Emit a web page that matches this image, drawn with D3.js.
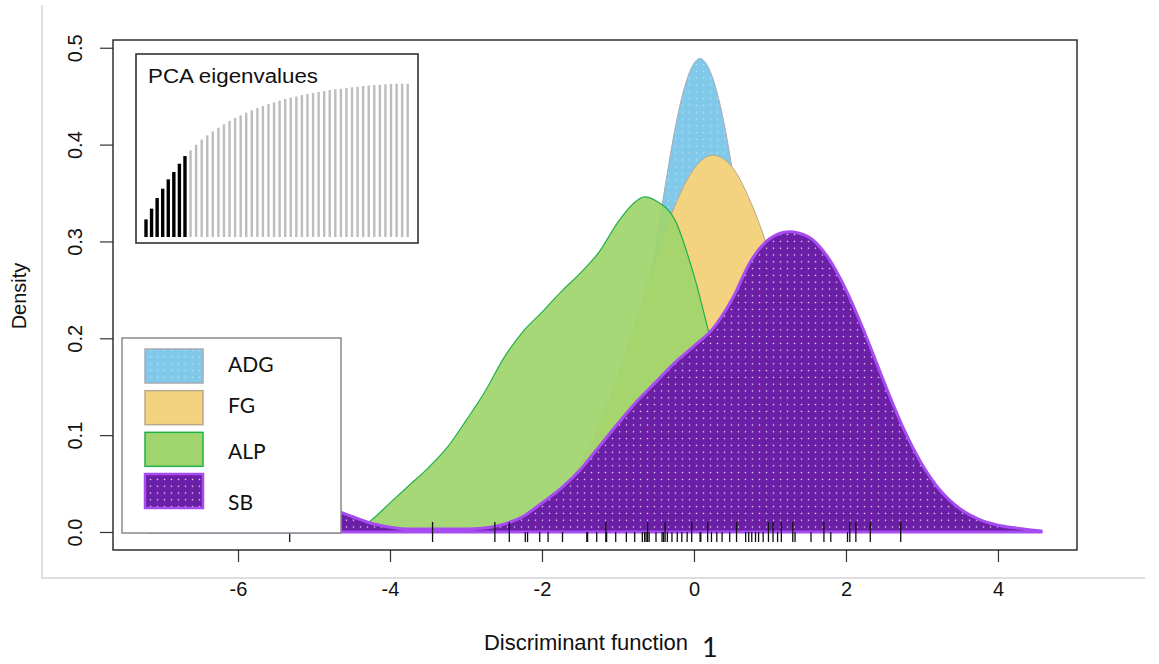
<!DOCTYPE html>
<html>
<head>
<meta charset="utf-8">
<script src="https://cdn.jsdelivr.net/npm/d3@7"></script>
<style>
  body { margin: 0; background: #fff; }
  svg { display: block; font-family: "Liberation Sans", Arial, sans-serif; }
</style>
</head>
<body>
<div id="chart"></div>
<script>
// ---- data ---------------------------------------------------------------
const groups = ["ADG", "FG", "ALP", "SB"];

// density curves: x positions and density values, one pair per group
const adgX = [-2.0, -1.75, -1.5, -1.25, -1.0, -0.75, -0.5, -0.375, -0.25, -0.125, 0.0, 0.08, 0.125, 0.25, 0.375, 0.5, 0.625, 0.75, 1.0, 1.25, 1.5, 1.75, 2.0];
const adgY = [0.001, 0.004, 0.012, 0.035, 0.087, 0.176, 0.297, 0.359, 0.416, 0.459, 0.484, 0.489, 0.487, 0.468, 0.430, 0.376, 0.314, 0.251, 0.139, 0.064, 0.024, 0.008, 0.002];

const fgX = [-2.5, -2.25, -2.0, -1.75, -1.5, -1.25, -1.0, -0.75, -0.5, -0.25, 0.0, 0.25, 0.5, 0.75, 1.0, 1.25, 1.5, 1.75, 2.0, 2.25, 2.5, 2.75, 3.0];
const fgY = [0.006, 0.012, 0.023, 0.041, 0.070, 0.109, 0.161, 0.221, 0.282, 0.337, 0.375, 0.389, 0.377, 0.340, 0.287, 0.226, 0.166, 0.113, 0.072, 0.043, 0.024, 0.012, 0.005];

const alpX = [-4.6, -4.5, -4.25, -4.0, -3.75, -3.5, -3.25, -3.0, -2.75, -2.5, -2.25, -2.0, -1.75, -1.5, -1.25, -1.0, -0.8, -0.65, -0.5, -0.25, 0.0, 0.25, 0.5, 0.75, 1.0, 1.25, 1.5, 1.75];
const alpY = [0.0, 0.002, 0.012, 0.030, 0.048, 0.066, 0.087, 0.115, 0.145, 0.180, 0.207, 0.227, 0.248, 0.267, 0.289, 0.320, 0.339, 0.346, 0.342, 0.322, 0.265, 0.190, 0.125, 0.070, 0.032, 0.012, 0.003, 0.0];

const sbX = [-7.175, -6.0, -5.75, -5.5, -5.25, -5.0, -4.75, -4.5, -4.25, -4.0, -3.75, -3.5, -3.25, -3.0, -2.75, -2.5, -2.25, -2.0, -1.75, -1.5, -1.25, -1.0, -0.75, -0.5, -0.25, 0.0, 0.25, 0.5, 0.75, 1.0, 1.25, 1.5, 1.75, 2.0, 2.25, 2.5, 2.75, 3.0, 3.25, 3.5, 3.75, 4.0, 4.25, 4.57];
const sbY = [0.0, 0.0, 0.001, 0.003, 0.012, 0.020, 0.022, 0.016, 0.009, 0.005, 0.003, 0.003, 0.003, 0.003, 0.004, 0.008, 0.016, 0.030, 0.045, 0.064, 0.088, 0.112, 0.135, 0.155, 0.175, 0.192, 0.210, 0.240, 0.280, 0.303, 0.310, 0.305, 0.285, 0.250, 0.205, 0.155, 0.108, 0.070, 0.042, 0.024, 0.013, 0.007, 0.004, 0.001];

// rug of individuals along the discriminant function
const rugLong = [-3.44, -2.62, -2.43, -1.16, -0.61, -0.38, -0.03, 0.18, 0.56, 0.98, 1.04, 1.15, 1.30, 1.71, 2.05, 2.13, 2.32, 2.72];
const rugShort = [-5.32, -2.22, -2.19, -2.03, -1.92, -1.73, -1.41, -1.40, -1.28, -1.15, -1.03, -0.89, -0.78, -0.68, -0.65, -0.63, -0.59, -0.50, -0.42, -0.40, -0.35, -0.29, -0.22, -0.16, -0.09, 0.08, 0.09, 0.23, 0.30, 0.37, 0.47, 0.68, 0.72, 0.76, 0.81, 0.85, 0.91, 1.10, 1.33, 1.54, 1.80, 2.02];

// PCA eigenvalues inset (cumulative), first 8 retained
const pcaCum = [11.5, 18.5, 25.4, 31.5, 37.6, 42.4, 47.8, 52.8, 56.5, 60.2, 63.5, 66.3, 68.9, 71.3, 73.5, 75.7, 77.6, 79.3, 81.1, 82.6, 84.1, 85.4, 86.7, 87.8, 88.9, 90.0, 90.9, 91.7, 92.6, 93.3, 93.9, 94.6, 95.2, 95.9, 96.3, 96.7, 97.2, 97.6, 98.0, 98.5, 98.9, 99.1, 99.3, 99.6, 99.8, 100, 100, 100];
const nRetained = 8;

const xTicks = [-6, -4, -2, 0, 2, 4];
const yTicks = [0, 0.1, 0.2, 0.3, 0.4, 0.5];

// ---- layout ----------------------------------------------------------------
const W = 1159, H = 664;
const box = { left: 113, right: 1077, top: 40, bottom: 550 };

const fills = { ADG: "url(#dotsADG)", FG: "#f3d37f", ALP: "#9fd56c", SB: "url(#dotsSB)" };
const strokes = { ADG: "#a9a9b4", FG: "#b8a98a", ALP: "#22b04a", SB: "#a64cf0" };
const strokeW = { ADG: 1, FG: 1, ALP: 1.2, SB: 3 };
const opac = { ADG: 1, FG: 1, ALP: 0.92, SB: 1 };

const svg = d3.select("#chart").append("svg")
  .attr("width", W)
  .attr("height", H);

// patterns (dotted fills)
const defs = svg.append("defs");
function dotPattern(id, bg, dot, op) {
  const p = defs.append("pattern")
    .attr("id", id)
    .attr("width", 7).attr("height", 6.8)
    .attr("patternUnits", "userSpaceOnUse");
  p.append("rect").attr("width", 7).attr("height", 6.8).attr("fill", bg);
  p.append("circle").attr("cx", 3.5).attr("cy", 3.4).attr("r", 0.8)
    .attr("fill", dot).attr("opacity", op);
}
dotPattern("dotsSB", "#6b1fa6", "#ffffff", 0.85);
dotPattern("dotsADG", "#80c9ea", "#ffffff", 0.5);

defs.append("clipPath").attr("id", "plotClip")
  .append("rect")
  .attr("x", box.left).attr("y", box.top)
  .attr("width", box.right - box.left).attr("height", box.bottom - box.top);

// light frame around the figure
svg.append("path")
  .attr("d", `M42,5 V578 H1145`)
  .attr("fill", "none")
  .attr("stroke", "#d3d3d3")
  .attr("stroke-width", 1.5);

// scales
const x = d3.scaleLinear().domain([-7.645, 5.04]).range([box.left, box.right]);
const y = d3.scaleLinear().domain([-0.0186, 0.508]).range([box.bottom, box.top]);

// density areas, drawn back to front
const area = d3.area()
  .x(d => x(d[0]))
  .y0(y(0))
  .y1(d => y(d[1]))
  .curve(d3.curveMonotoneX);

const curves = {
  ADG: d3.zip(adgX, adgY),
  FG: d3.zip(fgX, fgY),
  ALP: d3.zip(alpX, alpY),
  SB: d3.zip(sbX, sbY)
};

const plot = svg.append("g").attr("clip-path", "url(#plotClip)");
groups.forEach(g => {
  plot.append("path")
    .datum(curves[g])
    .attr("d", area)
    .attr("fill", fills[g])
    .attr("fill-opacity", opac[g])
    .attr("stroke", strokes[g])
    .attr("stroke-width", strokeW[g])
    .attr("stroke-linejoin", "round");
});

// rug
plot.selectAll(".rugL").data(rugLong).enter().append("line")
  .attr("x1", d => x(d)).attr("x2", d => x(d))
  .attr("y1", y(0) - 10).attr("y2", y(0) + 10)
  .attr("stroke", "#111").attr("stroke-width", 1.3);
plot.selectAll(".rugS").data(rugShort).enter().append("line")
  .attr("x1", d => x(d)).attr("x2", d => x(d))
  .attr("y1", y(0)).attr("y2", y(0) + 10)
  .attr("stroke", "#111").attr("stroke-width", 1.3);

// axes
const xAxis = svg.append("g")
  .attr("transform", `translate(0,${box.bottom})`)
  .call(d3.axisBottom(x).tickValues(xTicks).tickSize(12).tickPadding(20).tickFormat(d => String(d)));
xAxis.select(".domain").remove();
xAxis.selectAll("line").attr("stroke", "#333").attr("stroke-width", 1.2);
xAxis.selectAll("text")
  .attr("fill", "#111")
  .style("font-size", "20px")
  .style("font-family", "'Liberation Sans', Arial, sans-serif");

const yAxis = svg.append("g")
  .attr("transform", `translate(${box.left},0)`)
  .call(d3.axisLeft(y).tickValues(yTicks).tickSize(13).tickFormat(d3.format(".1f")));
yAxis.select(".domain").remove();
yAxis.selectAll("line").attr("stroke", "#333").attr("stroke-width", 1.2);
yAxis.selectAll("text")
  .attr("x", null).attr("dy", null)
  .attr("text-anchor", "middle")
  .attr("transform", `translate(${75 - box.left},0) rotate(-90)`)
  .attr("dy", "0.36em")
  .attr("fill", "#111")
  .style("font-size", "20px")
  .style("font-family", "'Liberation Sans', Arial, sans-serif");

// plot box
svg.append("rect")
  .attr("x", box.left).attr("y", box.top)
  .attr("width", box.right - box.left).attr("height", box.bottom - box.top)
  .attr("fill", "none")
  .attr("stroke", "#222")
  .attr("stroke-width", 1.4);

// axis titles
svg.append("text")
  .attr("transform", "translate(26,296) rotate(-90)")
  .attr("text-anchor", "middle")
  .attr("fill", "#111")
  .style("font-size", "20px")
  .text("Density");

svg.append("text")
  .attr("x", 484).attr("y", 650)
  .attr("textLength", 204)
  .attr("lengthAdjust", "spacingAndGlyphs")
  .attr("fill", "#111")
  .style("font-size", "22px")
  .text("Discriminant function");
svg.append("text")
  .attr("x", 702).attr("y", 657)
  .attr("fill", "#111")
  .style("font-family", "Lato, 'Open Sans', sans-serif")
  .style("font-size", "27px")
  .text("1");

// legend
const leg = svg.append("g");
leg.append("rect")
  .attr("x", 122).attr("y", 338).attr("width", 219).attr("height", 195)
  .attr("fill", "#fff").attr("stroke", "#8a8a8a").attr("stroke-width", 1.5);
const legY = d3.scalePoint().domain(groups).range([349, 474]);
const legTextY = { ADG: 372, FG: 413, ALP: 459, SB: 510 };
groups.forEach(g => {
  leg.append("rect")
    .attr("x", 145).attr("y", legY(g))
    .attr("width", 58).attr("height", 34)
    .attr("fill", fills[g])
    .attr("stroke", strokes[g])
    .attr("stroke-width", g === "SB" ? 2.5 : 1.5);
  leg.append("text")
    .attr("x", 228).attr("y", legTextY[g])
    .attr("fill", "#111")
    .style("font-family", "Lato, 'Open Sans', sans-serif")
    .style("font-size", "21px")
    .text(g);
});

// PCA eigenvalues inset
const inset = { left: 136, right: 418, top: 54, bottom: 243 };
svg.append("rect")
  .attr("x", inset.left).attr("y", inset.top)
  .attr("width", inset.right - inset.left).attr("height", inset.bottom - inset.top)
  .attr("fill", "#fff").attr("stroke", "#333").attr("stroke-width", 1.6);

const ix = d3.scaleLinear().domain([1, pcaCum.length]).range([146, 407.7]);
const iy = d3.scaleLinear().domain([0, 100]).range([237, 83.7]);
svg.append("g").selectAll("line").data(pcaCum).enter().append("line")
  .attr("x1", (d, i) => ix(i + 1)).attr("x2", (d, i) => ix(i + 1))
  .attr("y1", iy(0)).attr("y2", d => iy(d))
  .attr("stroke", (d, i) => i < nRetained ? "#000" : "#bdbdbd")
  .attr("stroke-width", (d, i) => i < nRetained ? 3.4 : 2.4);

svg.append("text")
  .attr("x", 148).attr("y", 83)
  .attr("textLength", 170)
  .attr("lengthAdjust", "spacingAndGlyphs")
  .attr("fill", "#111")
  .style("font-size", "20px")
  .text("PCA eigenvalues");
</script>
</body>
</html>
